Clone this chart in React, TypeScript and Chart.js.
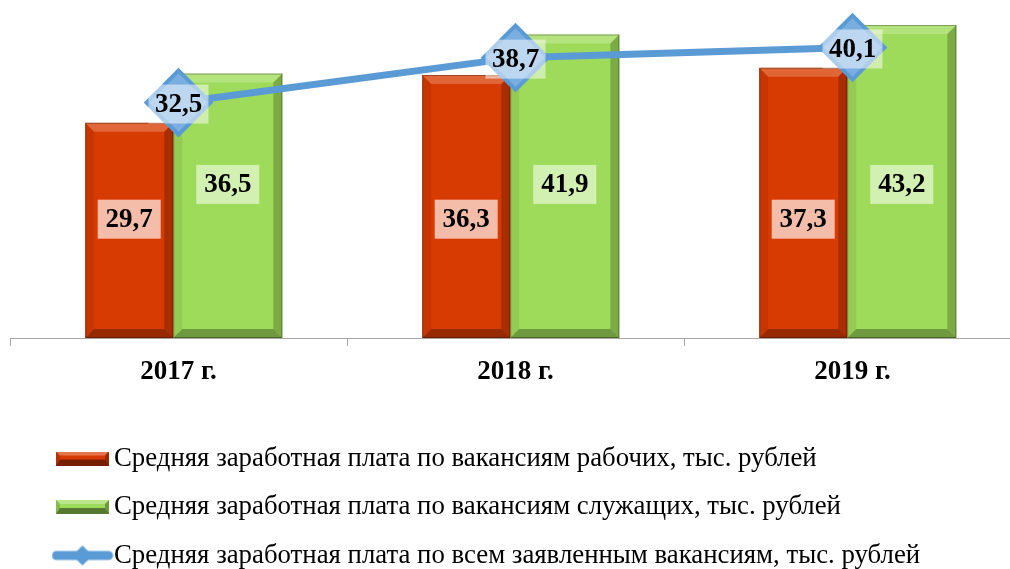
import React, { useEffect, useRef } from 'react';
import { Chart, registerables } from 'chart.js';

Chart.register(...registerables);

// ---- data ----
const categories = ['2017 г.', '2018 г.', '2019 г.'];
const workersSalary = [29.7, 36.3, 37.3];
const employeesSalary = [36.5, 41.9, 43.2];
const allVacanciesSalary = [32.5, 38.7, 40.1];
const seriesNames = [
  'Средняя заработная плата по вакансиям рабочих, тыс. рублей',
  'Средняя заработная плата по вакансиям служащих, тыс. рублей',
  'Средняя заработная плата по всем заявленным вакансиям, тыс. рублей',
];

// ---- styles ----
const RED = '#D83B01';
const GREEN = '#9FDB5A';
const BLUE = '#5B9BD5';
const FONT = '"Liberation Serif", "Times New Roman", serif';

const fmt = (v: number) => v.toFixed(1).replace('.', ',');

function poly(ctx: CanvasRenderingContext2D, pts: number[][], fill: string) {
  ctx.beginPath();
  ctx.moveTo(pts[0][0], pts[0][1]);
  for (let i = 1; i < pts.length; i++) ctx.lineTo(pts[i][0], pts[i][1]);
  ctx.closePath();
  ctx.fillStyle = fill;
  ctx.fill();
}

function makeBarSymbol(color: string) {
  const c = document.createElement('canvas');
  c.width = 53;
  c.height = 14;
  const ctx = c.getContext('2d')!;
  ctx.fillStyle = color;
  ctx.fillRect(0, 0, 53, 14);
  poly(ctx, [[0, 0], [53, 0], [49, 4], [4, 4]], 'rgba(255,255,255,0.3)');
  poly(ctx, [[0, 14], [53, 14], [49, 8], [4, 8]], 'rgba(0,0,0,0.45)');
  poly(ctx, [[53, 0], [53, 14], [49, 8], [49, 4]], 'rgba(0,0,0,0.3)');
  poly(ctx, [[0, 0], [0, 14], [4, 8], [4, 4]], 'rgba(0,0,0,0.15)');
  return c;
}

function makeLineSymbol() {
  const c = document.createElement('canvas');
  c.width = 62;
  c.height = 24;
  const ctx = c.getContext('2d')!;
  ctx.strokeStyle = BLUE;
  ctx.lineWidth = 9;
  ctx.lineCap = 'round';
  ctx.beginPath();
  ctx.moveTo(5, 12);
  ctx.lineTo(57, 12);
  ctx.stroke();
  poly(ctx, [[31, 2], [41, 12], [31, 22], [21, 12]], BLUE);
  return c;
}

const bevelPlugin = {
  id: 'bevel',
  afterDatasetDraw(chart: any, args: any) {
    const meta = args.meta;
    if (meta.type !== 'bar') return;
    const ctx: CanvasRenderingContext2D = chart.ctx;
    const b = 9;
    ctx.save();
    meta.data.forEach((el: any) => {
      const { x, y, base, width } = el.getProps(['x', 'y', 'base', 'width'], true);
      const l = x - width / 2;
      const r = x + width / 2;
      const t = Math.min(y, base);
      const bot = Math.max(y, base);
      poly(ctx, [[l, t], [r, t], [r - b, t + b], [l + b, t + b]], 'rgba(255,255,255,0.22)');
      poly(ctx, [[r, t], [r, bot], [r - b, bot - b], [r - b, t + b]], 'rgba(0,0,0,0.22)');
      poly(ctx, [[l, bot], [r, bot], [r - b, bot - b], [l + b, bot - b]], 'rgba(0,0,0,0.3)');
      poly(ctx, [[l, t], [l + b, t + b], [l + b, bot - b], [l, bot]], 'rgba(0,0,0,0.07)');
      ctx.strokeStyle = 'rgba(0,0,0,0.3)';
      ctx.lineWidth = 1;
      ctx.strokeRect(l + 0.5, t + 0.5, width - 1, bot - t - 1);
    });
    ctx.restore();
  },
};

const valueLabelPlugin = {
  id: 'valueLabels',
  afterDatasetsDraw(chart: any, _args: any, opts: any) {
    const ctx: CanvasRenderingContext2D = chart.ctx;
    const yScale = chart.scales.y;
    ctx.save();
    chart.data.datasets.forEach((ds: any, di: number) => {
      const cfg = opts.boxes[di];
      if (!cfg) return;
      const meta = chart.getDatasetMeta(di);
      meta.data.forEach((el: any, i: number) => {
        const cx = el.x;
        const cy = cfg.atValue !== undefined ? yScale.getPixelForValue(cfg.atValue) : el.y + cfg.dy;
        ctx.fillStyle = cfg.bg;
        ctx.fillRect(cx - cfg.w / 2, cy - cfg.h / 2, cfg.w, cfg.h);
        ctx.font = `bold 27px ${FONT}`;
        ctx.fillStyle = '#000';
        ctx.textAlign = 'center';
        ctx.textBaseline = 'middle';
        ctx.fillText(fmt(ds.data[i]), cx, cy + 1);
      });
    });
    ctx.restore();
  },
};

const legendShiftPlugin = {
  id: 'legendShift',
  afterLayout(chart: any, _args: any, opts: any) {
    if (chart.legend) chart.legend.left += opts.dx;
  },
};

export default function App() {
  const ref = useRef<HTMLCanvasElement | null>(null);

  useEffect(() => {
    document.body.style.margin = '0';
    if (!ref.current) return;
    const symbols = [makeBarSymbol(RED), makeBarSymbol(GREEN), makeLineSymbol()];
    const chart = new Chart(ref.current, {
      data: {
        labels: categories,
        datasets: [
          {
            type: 'bar',
            label: seriesNames[0],
            data: workersSalary,
            backgroundColor: RED,
            categoryPercentage: 0.585,
            barPercentage: 0.893,
            order: 2,
          },
          {
            type: 'bar',
            label: seriesNames[1],
            data: employeesSalary,
            backgroundColor: GREEN,
            categoryPercentage: 0.585,
            barPercentage: 1.107,
            order: 2,
          },
          {
            type: 'line',
            label: seriesNames[2],
            data: allVacanciesSalary,
            borderColor: BLUE,
            borderWidth: 7,
            tension: 0,
            pointStyle: 'rectRot',
            pointRadius: 32,
            pointHoverRadius: 32,
            pointBackgroundColor: '#7AAEE0',
            pointBorderColor: BLUE,
            pointBorderWidth: 4,
            order: 1,
            clip: false,
          },
        ] as any,
      },
      options: {
        responsive: false,
        animation: false,
        layout: { autoPadding: false, padding: { left: 10, right: 9, top: 12, bottom: -9.9 } },
        scales: {
          x: {
            grid: {
              display: true,
              drawOnChartArea: false,
              drawTicks: true,
              tickLength: 8,
              color: '#A6A6A6',
              offset: true,
            },
            border: { display: true, color: '#A6A6A6', width: 1 },
            ticks: {
              color: '#000',
              font: { family: FONT, size: 27, weight: 'bold' },
              padding: 10,
              maxRotation: 0,
              autoSkip: false,
            },
            afterFit: (s: any) => {
              s.height = 85.4;
            },
          },
          y: { display: false, min: 0, max: 45 },
        },
        plugins: {
          tooltip: { enabled: false },
          legend: {
            position: 'bottom',
            align: 'start',
            labels: {
              usePointStyle: true,
              pointStyleWidth: 36.2,
              padding: 21.7,
              color: '#000',
              font: { family: FONT, size: 26.8 },
              generateLabels: () =>
                seriesNames.map((t, i) => ({
                  text: t,
                  pointStyle: symbols[i],
                  fillStyle: 'transparent',
                  strokeStyle: 'transparent',
                  lineWidth: 0,
                  hidden: false,
                  datasetIndex: i,
                  fontColor: '#000',
                })),
            },
          },
          valueLabels: {
            boxes: [
              { atValue: 16.4, w: 63, h: 39, bg: '#F4BDAA' },
              { atValue: 21.2, w: 63, h: 39, bg: '#D3F0B3' },
              { dy: 1.5, w: 60, h: 39, bg: 'rgba(255,255,255,0.5)' },
            ],
          },
          legendShift: { dx: 32.7 },
        } as any,
      },
      plugins: [bevelPlugin, valueLabelPlugin, legendShiftPlugin],
    });
    return () => chart.destroy();
  }, []);

  return (
    <div style={{ width: 1010, height: 569, overflow: 'hidden', background: '#fff' }}>
      <canvas ref={ref} width={1030} height={569} style={{ display: 'block' }} />
    </div>
  );
}
